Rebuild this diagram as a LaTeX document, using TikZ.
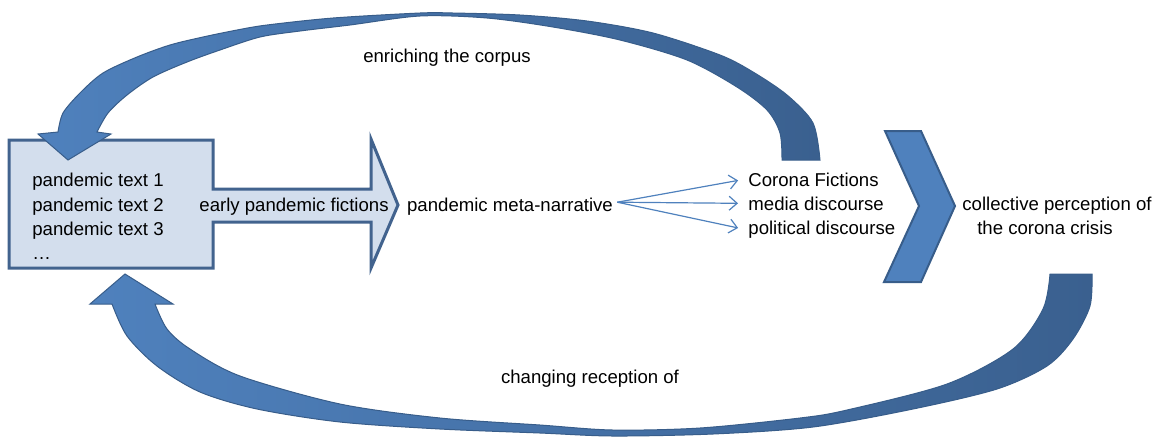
\documentclass[tikz,border=0pt]{standalone}
\usepackage{fontspec}
\setmainfont{Liberation Sans}
\usetikzlibrary{arrows.meta}

\definecolor{boxfill}{RGB}{211,222,237}
\definecolor{boxline}{RGB}{66,99,142}
\definecolor{lightblue}{RGB}{79,129,189}
\definecolor{darkblue}{RGB}{58,96,143}
\definecolor{edgeblue}{RGB}{56,93,138}

\begin{document}
\begin{tikzpicture}[x=0.5pt, y=-0.5pt,
  every node/.style={font=\fontsize{9.3}{12}\selectfont, inner sep=2pt},
  flow/.style={draw=boxline, fill=boxfill, line width=1.5pt, line join=miter},
  chev/.style={draw=edgeblue, fill=lightblue, line width=1pt, line join=miter},
  ribbon/.style={draw=edgeblue, line width=0.5pt, left color=lightblue, right color=darkblue},
  fan/.style={draw=lightblue, line width=0.6pt, shorten >=3pt, -{Straight Barb[length=4pt, width=7pt]}}]

\useasboundingbox (0,0) rectangle (1165,436);

\filldraw [flow] (9,140) -- (213,140) -- (213,189) -- (371,189) -- (371,139) -- (398,205)
  -- (371,268) -- (371,222) -- (213,222) -- (213,268) -- (9,268) -- cycle;

\filldraw [chev] (885,131) -- (921,131) -- (955,206) -- (921,282) -- (884,282) -- (919,206) -- cycle;

\draw [ribbon] plot [smooth] coordinates {(820,160) (813,123) (787,95) (753,72) (720,55) (653,33)
    (587,21) (520,15) (453,13) (420,13) (333,18) (267,25) (237,30) (203,37) (170,45) (137,57)
    (103,73) (80,93) (63,113) (58,132)}
  -- (38,134) -- (68,160) -- (111,134) --
  plot [smooth] coordinates {(97,132) (108,113) (127,95) (153,77) (187,62) (220,50) (260,37)
    (300,31) (350,25) (420,16) (487,18) (553,27) (620,40) (687,60) (737,87) (767,110) (780,133) (782,160)}
  -- cycle;

\draw [ribbon] plot [smooth] coordinates {(1092,274) (1090,306) (1073,339) (1047,366) (997,389)
    (913,409) (813,427) (713,434) (613,436) (540,433) (440,429) (340,422) (257,409) (200,392)
    (157,366) (127,336) (112,304)}
  -- (90,304) -- (125,274) -- (173,304) --
  plot [smooth] coordinates {(155,304) (167,329) (190,349) (240,376) (340,404) (440,418) (540,425)
    (613,430) (700,428) (800,418) (847,410) (947,384) (1013,349) (1043,309) (1050,274)}
  -- cycle;

\node (txt1) [anchor=base west] at (28,186) {pandemic text 1};
\node (txt2) [anchor=base west] at (28,211) {pandemic text 2};
\node (txt3) [anchor=base west] at (28,235) {pandemic text 3};
\node (txt4) [anchor=base west] at (28,259) {…};

\node (early) [anchor=base] at (294,211) {early pandemic fictions};
\node (meta) [anchor=base] at (510,211) {pandemic meta-narrative};

\node (cf1) [anchor=base west] at (744,186) {Corona Fictions};
\node (cf2) [anchor=base west] at (744,210) {media discourse};
\node (cf3) [anchor=base west] at (744,234) {political discourse};

\node (perc1) [anchor=base] at (1057,210) {collective perception of};
\node (perc2) [anchor=base] at (1045,234) {the corona crisis};

\node (enrich) [anchor=base] at (447,62) {enriching the corpus};
\node (change) [anchor=base] at (590,383) {changing reception of};

\begin{scope}[fan]
\draw ([yshift=2pt]meta.east) -- (cf1.west);
\draw ([yshift=2pt]meta.east) -- (cf2.west);
\draw ([yshift=2pt]meta.east) -- (cf3.west);
\end{scope}

\end{tikzpicture}
\end{document}
